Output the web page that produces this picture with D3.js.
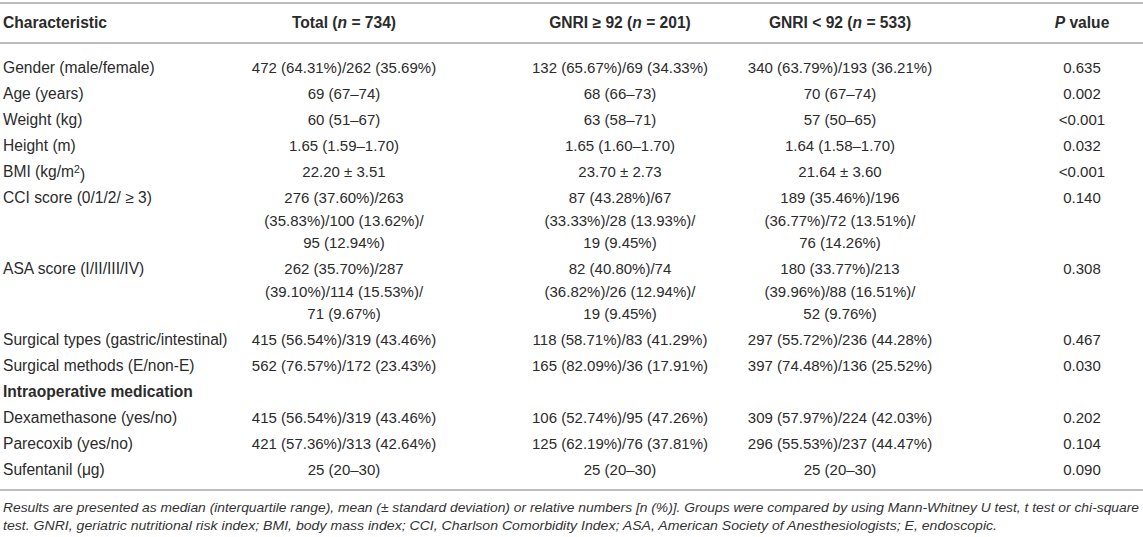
<!DOCTYPE html>
<html>
<head>
<meta charset="utf-8">
<script src="https://d3js.org/d3.v7.min.js"></script>
<style>
  body { margin: 0; background: #fff; }
  svg text { font-family: "Liberation Sans", Arial, sans-serif; fill: #2b2b2b; }
  .rule { stroke: #bdbdbd; stroke-width: 2px; }
  .note { font-style: italic; font-family: "Liberation Sans Narrow", "Liberation Sans", sans-serif; fill: #333; }
</style>
</head>
<body>
<svg id="table" width="1143" height="537"></svg>
<script>
// table content, one array per column
var characteristics = ["Gender (male/female)", "Age (years)", "Weight (kg)", "Height (m)", "BMI (kg/m|2|)",
  "CCI score (0/1/2/ \u2265 3)", "ASA score (I/II/III/IV)", "Surgical types (gastric/intestinal)",
  "Surgical methods (E/non-E)", "Intraoperative medication", "Dexamethasone (yes/no)",
  "Parecoxib (yes/no)", "Sufentanil (\u03bcg)"];
var sectionRows = ["Intraoperative medication"];

var totalCol = ["472 (64.31%)/262 (35.69%)", "69 (67\u201374)", "60 (51\u201367)", "1.65 (1.59\u20131.70)",
  "22.20 \u00b1 3.51", "276 (37.60%)/263\n(35.83%)/100 (13.62%)/\n95 (12.94%)",
  "262 (35.70%)/287\n(39.10%)/114 (15.53%)/\n71 (9.67%)", "415 (56.54%)/319 (43.46%)",
  "562 (76.57%)/172 (23.43%)", "", "415 (56.54%)/319 (43.46%)", "421 (57.36%)/313 (42.64%)", "25 (20\u201330)"];
var gnriHighCol = ["132 (65.67%)/69 (34.33%)", "68 (66\u201373)", "63 (58\u201371)", "1.65 (1.60\u20131.70)",
  "23.70 \u00b1 2.73", "87 (43.28%)/67\n(33.33%)/28 (13.93%)/\n19 (9.45%)",
  "82 (40.80%)/74\n(36.82%)/26 (12.94%)/\n19 (9.45%)", "118 (58.71%)/83 (41.29%)",
  "165 (82.09%)/36 (17.91%)", "", "106 (52.74%)/95 (47.26%)", "125 (62.19%)/76 (37.81%)", "25 (20\u201330)"];
var gnriLowCol = ["340 (63.79%)/193 (36.21%)", "70 (67\u201374)", "57 (50\u201365)", "1.64 (1.58\u20131.70)",
  "21.64 \u00b1 3.60", "189 (35.46%)/196\n(36.77%)/72 (13.51%)/\n76 (14.26%)",
  "180 (33.77%)/213\n(39.96%)/88 (16.51%)/\n52 (9.76%)", "297 (55.72%)/236 (44.28%)",
  "397 (74.48%)/136 (25.52%)", "", "309 (57.97%)/224 (42.03%)", "296 (55.53%)/237 (44.47%)", "25 (20\u201330)"];
var pValues = ["0.635", "0.002", "<0.001", "0.032", "<0.001", "0.140", "0.308", "0.467", "0.030", "",
  "0.202", "0.104", "0.090"];

// header parts: [text, italic]
var headers = [
  [["Characteristic", false]],
  [["Total (", false], ["n", true], [" = 734)", false]],
  [["GNRI \u2265 92 (", false], ["n", true], [" = 201)", false]],
  [["GNRI < 92 (", false], ["n", true], [" = 533)", false]],
  [["P", true], [" value", false]]
];
var footnote = [
  "Results are presented as median (interquartile range), mean (\u00b1 standard deviation) or relative numbers [n (%)]. Groups were compared by using Mann-Whitney U test, t test or chi-square",
  "test. GNRI, geriatric nutritional risk index; BMI, body mass index; CCI, Charlson Comorbidity Index; ASA, American Society of Anesthesiologists; E, endoscopic."
];

var width = 1143, labelSize = 15.6, valueSize = 15, lineStep = 22.5, rowStep = 26;
var svg = d3.select("#table");
var colX = [3, 344, 620, 840, 1082];
var columns = [totalCol, gnriHighCol, gnriLowCol, pValues];

// row positions (first line centre of every row)
var rowY = [];
var y = 68;
characteristics.forEach(function(c, i) {
  rowY.push(y);
  var nLines = d3.max(columns, function(col) { return col[i].split("\n").length; });
  y += rowStep + (nLines - 1) * lineStep;
});

// rules
svg.selectAll("line.rule").data([3, 43, 490]).join("line")
  .attr("class", "rule").attr("x1", 0).attr("x2", width)
  .attr("y1", function(d) { return d; }).attr("y2", function(d) { return d; });

// header
headers.forEach(function(parts, j) {
  var t = svg.append("text")
    .attr("x", colX[j]).attr("y", 23).attr("dy", "0.35em")
    .attr("text-anchor", j === 0 ? "start" : "middle")
    .style("font-size", labelSize + "px").style("font-weight", "bold");
  parts.forEach(function(p) {
    t.append("tspan").text(p[0]).style("font-style", p[1] ? "italic" : "normal");
  });
});

// first column
characteristics.forEach(function(c, i) {
  var t = svg.append("text")
    .attr("x", colX[0]).attr("y", rowY[i]).attr("dy", "0.35em")
    .style("font-size", labelSize + "px")
    .style("font-weight", sectionRows.indexOf(c) >= 0 ? "bold" : "normal");
  c.split("|").forEach(function(part, k) {
    var s = t.append("tspan").text(part);
    if (k === 1) s.attr("dy", "-0.45em").style("font-size", (labelSize * 0.68) + "px");
    if (k === 2) s.attr("dy", "0.45em");
  });
});

// value columns
columns.forEach(function(col, j) {
  col.forEach(function(v, i) {
    if (!v) return;
    var t = svg.append("text")
      .attr("text-anchor", "middle")
      .style("font-size", valueSize + "px");
    v.split("\n").forEach(function(line, k) {
      t.append("tspan").attr("x", colX[j + 1]).attr("y", rowY[i] + k * lineStep)
        .attr("dy", "0.35em").text(line);
    });
  });
});

// footnote, squeezed to the widths of the original lines
var noteY = [507, 525], noteLen = [1136, 994];
svg.selectAll("text.note").data(footnote).join("text")
  .attr("class", "note").attr("x", 3)
  .attr("y", function(d, i) { return noteY[i]; }).attr("dy", "0.35em")
  .style("font-size", "13px")
  .attr("textLength", function(d, i) { return noteLen[i]; })
  .attr("lengthAdjust", "spacingAndGlyphs")
  .text(function(d) { return d; });
</script>
</body>
</html>
